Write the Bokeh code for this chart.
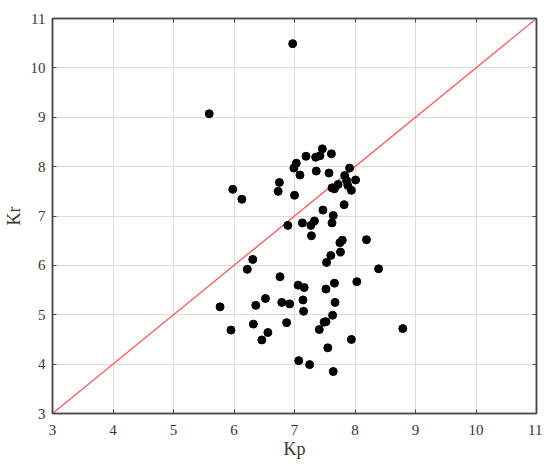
from bokeh.plotting import figure
from bokeh.models import Range1d, LinearAxis, FixedTicker
from bokeh.embed import file_html
from bokeh.resources import INLINE

kp = [6.97, 5.59, 7.46, 7.42, 7.35, 7.19, 7.61,
      7.03, 6.99, 7.09, 7.36, 7.57, 7.91, 8.01, 7.83, 7.86, 7.88, 7.94,
      7.62, 7.66, 7.72, 6.75, 6.73, 7.00, 5.98, 6.13,
      7.82, 7.47, 7.64, 7.62, 7.33, 7.27, 7.13, 6.89,
      7.28, 8.19, 7.75, 7.79, 7.76, 7.60, 7.53, 6.31, 6.22, 8.39,
      6.76, 8.03, 7.66, 7.06, 7.16, 7.52, 6.52, 7.14, 6.79, 6.92,
      7.67, 6.36, 5.77, 7.15, 7.63, 7.49, 7.52, 6.87, 6.32, 5.95,
      7.41, 8.79, 6.56, 6.46, 7.94, 7.55, 7.07, 7.25, 7.64]
kr = [10.49, 9.07, 8.36, 8.22, 8.19, 8.21, 8.26,
      8.07, 7.97, 7.83, 7.91, 7.87, 7.97, 7.73, 7.82, 7.72, 7.62, 7.52,
      7.57, 7.55, 7.64, 7.68, 7.50, 7.42, 7.54, 7.34,
      7.23, 7.12, 7.01, 6.86, 6.90, 6.81, 6.86, 6.81,
      6.60, 6.52, 6.46, 6.51, 6.27, 6.20, 6.06, 6.12, 5.92, 5.93,
      5.77, 5.67, 5.64, 5.60, 5.55, 5.52, 5.33, 5.30, 5.25, 5.22,
      5.25, 5.19, 5.16, 5.07, 4.99, 4.85, 4.86, 4.84, 4.81, 4.69,
      4.70, 4.72, 4.64, 4.49, 4.50, 4.33, 4.07, 3.99, 3.85]
diag = [3, 11]
ticks = [3, 4, 5, 6, 7, 8, 9, 10, 11]

FONT = "Liberation Serif"
TXT = "#3a3530"
AX = "#4a4a4a"

p = figure(width=542, height=462, output_backend="svg", toolbar_location=None,
           x_range=Range1d(3, 11), y_range=Range1d(3, 11),
           min_border=0, min_border_left=52, min_border_right=6, min_border_top=18,
           min_border_bottom=49,
           x_axis_label="Kp", y_axis_label="Kr")
p.background_fill_color = "white"
p.border_fill_color = "white"
p.outline_line_color = AX
p.outline_line_width = 1.5

for ax in (p.xaxis[0], p.yaxis[0]):
    ax.ticker = FixedTicker(ticks=ticks)
    ax.major_tick_in = 4
    ax.major_tick_out = 0
    ax.minor_tick_line_color = None
    ax.axis_line_color = AX
    ax.axis_line_width = 1.5
    ax.major_tick_line_color = AX
    ax.major_label_text_font = FONT
    ax.major_label_text_font_size = "15px"
    ax.major_label_text_color = TXT
    ax.axis_label_text_font = FONT
    ax.axis_label_text_font_size = "18px"
    ax.axis_label_text_font_style = "normal"
    ax.axis_label_text_color = TXT

p.yaxis[0].major_label_standoff = 7
p.yaxis[0].axis_label_standoff = 4
p.xaxis[0].major_label_standoff = 11
p.xaxis[0].axis_label_standoff = 1

for loc in ("right", "above"):
    a = LinearAxis(ticker=FixedTicker(ticks=ticks), major_tick_in=4, major_tick_out=0,
                   minor_tick_line_color=None, major_label_text_color=None,
                   major_label_text_font_size="0px", major_label_standoff=0,
                   axis_line_color=AX, axis_line_width=1.5, major_tick_line_color=AX)
    p.add_layout(a, loc)

p.xgrid.ticker = FixedTicker(ticks=ticks)
p.ygrid.ticker = FixedTicker(ticks=ticks)
p.grid.grid_line_color = "#dcdcdc"
p.grid.grid_line_width = 1

p.line(diag, diag, line_color="#ff5a5a", line_width=1.3)
p.scatter(kp, kr, size=8, color="black")

open("out.html", "w").write(file_html(p, INLINE))
